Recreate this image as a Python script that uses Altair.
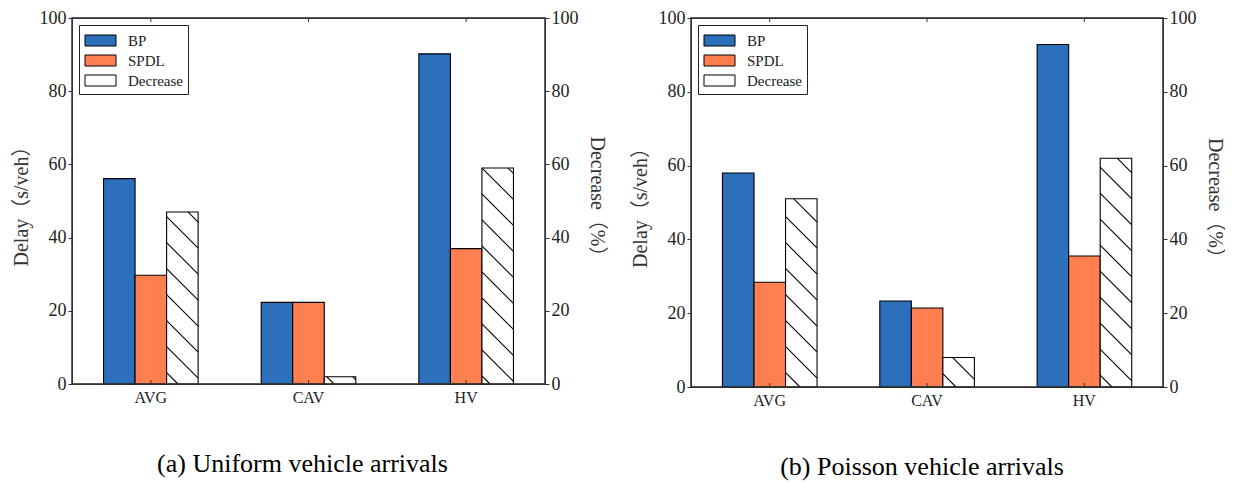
import altair as alt
import pandas as pd

# ---------------- data ----------------
categories = ["AVG", "CAV", "HV"]
series = ["BP", "SPDL", "Decrease"]

uniform_bp = [56.1, 22.3, 90.2]
uniform_spdl = [29.7, 22.3, 37.0]
uniform_decrease = [47.0, 2.0, 59.0]

poisson_bp = [58.0, 23.3, 92.8]
poisson_spdl = [28.4, 21.4, 35.5]
poisson_decrease = [51.0, 8.0, 62.0]

y_ticks = [0, 20, 40, 60, 80, 100]
captions = ["(a) Uniform vehicle arrivals", "(b) Poisson vehicle arrivals"]
left_title = "Delay（s/veh）"
right_title = "Decrease（%）"

# ---------------- style ----------------
colors = ["#2c6fbb", "#ff7f50", "#ffffff"]
PAD_IN, PAD_OUT = 0.4, 0.2          # band paddings -> each bar = 0.2 of a category step
BAR_W = (1 - PAD_IN) / len(series)
HATCH_SPACING = 26.0
TICK_PX = 4.0
SERIF = "Liberation Serif"
TITLE_FONT = "Liberation Serif, Noto Sans CJK SC"
rect_path = "M-1.55,-0.55H1.55V0.55H-1.55Z"
n_cat = len(categories)
Y_MAX = 100


def hatch_segments(values, width, height, phase=0.0):
    """45-degree '\\' hatch lines clipped to each Decrease bar (x in category units)."""
    def px(x):
        return (x + 0.5) / n_cat * width

    def py(y):
        return (Y_MAX - y) / Y_MAX * height

    def dx(p):
        return p / width * n_cat - 0.5

    def dy(p):
        return Y_MAX - p / height * Y_MAX

    rows = []
    k_dec = series.index("Decrease")
    for i, v in enumerate(values):
        left_edge = i - (1 - PAD_IN) / 2 + k_dec * BAR_W
        x0, x1 = px(left_edge), px(left_edge + BAR_W)
        top, bot = py(v), py(0)
        kmin = int((top - x1 - phase) // HATCH_SPACING) - 1
        kmax = int((bot - x0 - phase) // HATCH_SPACING) + 1
        for k in range(kmin, kmax + 1):
            c = phase + k * HATCH_SPACING
            lo = max(x0, top - c)
            hi = min(x1, bot - c)
            if hi - lo > 1.0:
                rows.append({"hx": dx(lo), "hy": dy(lo + c), "hx2": dx(hi), "hy2": dy(hi + c)})
    return pd.DataFrame(rows)


def panel(bp, spdl, dec, caption, width, height, dx_cap):
    xband = alt.Scale(type="band", domain=categories, paddingInner=PAD_IN, paddingOuter=PAD_OUT)
    xoff = alt.Scale(type="band", domain=series, paddingInner=0, paddingOuter=0)
    xq = alt.Scale(domain=[-0.5, n_cat - 0.5], nice=False, zero=False)
    ys = alt.Scale(domain=[0, Y_MAX], nice=False)

    delay_df = pd.DataFrame(
        [{"cat": c, "series": "BP", "value": v} for c, v in zip(categories, bp)]
        + [{"cat": c, "series": "SPDL", "value": v} for c, v in zip(categories, spdl)]
    )
    dec_df = pd.DataFrame([{"cat": c, "series": "Decrease", "value": v}
                           for c, v in zip(categories, dec)])
    hatch_df = hatch_segments(dec, width, height)
    tick_len = TICK_PX / height * Y_MAX
    tick_df = pd.DataFrame(
        [{"tx": i, "ty": 0, "ty2": tick_len} for i in range(n_cat)]
        + [{"tx": i, "ty": Y_MAX, "ty2": Y_MAX - tick_len} for i in range(n_cat)]
    )
    frame_df = pd.DataFrame({"fx": [-0.5], "fx2": [n_cat - 0.5], "fy": [0], "fy2": [Y_MAX]})

    legend = alt.Legend(
        title=None, orient="top-left", offset=7,
        strokeColor="#222", fillColor="white", padding=5,
        symbolOffset=6, labelOffset=17, symbolSize=400, symbolType=rect_path,
        symbolStrokeColor="black", symbolStrokeWidth=1,
        labelFont=SERIF, labelFontSize=15, rowPadding=1, cornerRadius=0,
    )

    delay_bars = alt.Chart(delay_df).mark_bar(stroke="black", strokeWidth=1.1).encode(
        x=alt.X("cat:N", scale=xband, sort=categories,
                axis=alt.Axis(title=None, ticks=False, domain=False, grid=False, labelAngle=0,
                              labelFontSize=16, labelPadding=5, labelFont=SERIF)),
        xOffset=alt.XOffset("series:N", scale=xoff, sort=series),
        y=alt.Y("value:Q", scale=ys,
                axis=alt.Axis(values=y_ticks, orient="left", title=left_title, grid=False,
                              tickSize=TICK_PX, titlePadding=8)),
        fill=alt.Fill("series:N", scale=alt.Scale(domain=series, range=colors), legend=legend),
    )

    dec_bars = alt.Chart(dec_df).mark_bar(fill="white", stroke="black", strokeWidth=1.1).encode(
        x=alt.X("cat:N", scale=xband, sort=categories, axis=None),
        xOffset=alt.XOffset("series:N", scale=xoff, sort=series),
        y=alt.Y("value:Q", scale=ys,
                axis=alt.Axis(values=y_ticks, orient="right", title=right_title, grid=False,
                              tickSize=TICK_PX, titlePadding=8)),
    )

    hatch = alt.Chart(hatch_df).mark_rule(color="black", strokeWidth=1.1).encode(
        x=alt.X("hx:Q", scale=xq, axis=None),
        x2="hx2",
        y=alt.Y("hy:Q", scale=ys, axis=None),
        y2="hy2",
    )

    ticks = alt.Chart(tick_df).mark_rule(color="#333", strokeWidth=1).encode(
        x=alt.X("tx:Q", scale=xq, axis=None),
        y=alt.Y("ty:Q", scale=ys, axis=None),
        y2="ty2",
    )

    frame = alt.Chart(frame_df).mark_rect(fillOpacity=0, stroke="#333", strokeWidth=1.3).encode(
        x=alt.X("fx:Q", scale=xq, axis=None),
        x2="fx2",
        y=alt.Y("fy:Q", scale=ys, axis=None),
        y2="fy2",
    )

    return alt.layer(delay_bars, dec_bars, hatch, ticks, frame).resolve_scale(
        x="independent", y="independent"
    ).properties(
        width=width,
        height=height,
        title=alt.TitleParams(caption, orient="bottom", anchor="middle", frame="group",
                              font=SERIF, fontSize=26, fontWeight="normal", color="black",
                              offset=46, dx=dx_cap),
    )


left = panel(uniform_bp, uniform_spdl, uniform_decrease, captions[0], 473, 366, -6)
right = panel(poisson_bp, poisson_spdl, poisson_decrease, captions[1], 472, 369, -5)

chart = alt.hconcat(left, right, spacing=22).resolve_scale(
    fill="independent"
).properties(
    padding={"left": 2, "top": 0, "right": 0, "bottom": 0}
).configure_view(
    stroke="#333", strokeWidth=1.2
).configure_axis(
    labelFont=SERIF, labelFontSize=18, labelColor="#222",
    titleFont=TITLE_FONT, titleFontSize=20, titleFontWeight="normal", titleColor="#333",
    domainColor="#333", tickColor="#333", labelPadding=2,
).configure_legend(
    labelColor="#222",
)

chart.save("out.html", embed_options={"renderer": "svg", "actions": False})
